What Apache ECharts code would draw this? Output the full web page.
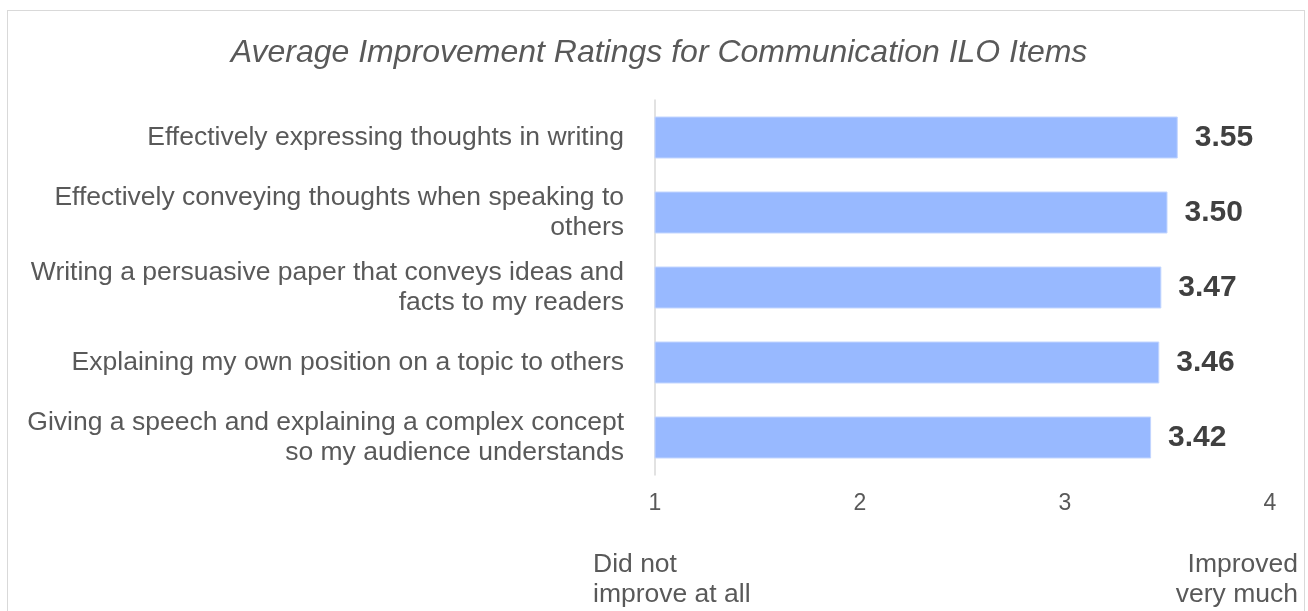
<!DOCTYPE html>
<html>
<head>
<meta charset="utf-8">
<script src="https://cdn.jsdelivr.net/npm/echarts@6/dist/echarts.min.js"></script>
<style>
  html, body { margin: 0; padding: 0; background: #fff; }
  .frame {
    position: absolute; left: 7px; top: 10px; width: 1298px; height: 620px;
    border: 1px solid #d9d9d9; box-sizing: border-box;
  }
  #chart { position: absolute; left: 0; top: 0; width: 1308px; height: 611px; }
</style>
</head>
<body>
<div class="frame"></div>
<div id="chart"></div>
<script>
// data
const categories = [
  "Effectively expressing thoughts in writing",
  "Effectively conveying thoughts when speaking to others",
  "Writing a persuasive paper that conveys ideas and facts to my readers",
  "Explaining my own position on a topic to others",
  "Giving a speech and explaining a complex concept so my audience understands",
];
const ratings = [3.55, 3.50, 3.47, 3.46, 3.42];
const scaleEnds = ["Did not\nimprove at all", "Improved\nvery much"];

const font = "Liberation Sans, Arial, sans-serif";

// wrap long labels on word boundaries (no trailing spaces)
function wrap(text, maxChars) {
  let lines = [];
  let cur = "";
  text.split(" ").forEach((w) => {
    if (cur && (cur + " " + w).length > maxChars) {
      lines.push(cur);
      cur = w;
    } else {
      cur = cur ? cur + " " + w : w;
    }
  });
  if (cur) lines.push(cur);
  return lines.join("\n");
}

const myChart = echarts.init(document.getElementById("chart"));

let option = {
  animation: false,
  title: {
    text: "Average Improvement Ratings for Communication ILO Items",
    left: 654,
    textAlign: "center",
    top: 32,
    textStyle: {
      fontFamily: font,
      fontStyle: "italic",
      fontWeight: "normal",
      fontSize: 32,
      color: "#595959",
    },
  },
  grid: {
    left: 655,
    right: 38,
    top: 100,
    bottom: 136,
  },
  xAxis: {
    type: "value",
    min: 1,
    max: 4,
    interval: 1,
    axisLine: { show: false },
    axisTick: { show: false },
    splitLine: { show: false },
    axisLabel: {
      margin: 17,
      fontFamily: font,
      fontSize: 23,
      color: "#595959",
    },
  },
  yAxis: {
    type: "category",
    data: categories,
    inverse: true,
    axisLine: { show: true, lineStyle: { color: "#d9d9d9", width: 1.5 } },
    axisTick: { show: false },
    axisLabel: {
      margin: 31,
      fontFamily: font,
      fontSize: 26.5,
      lineHeight: 30,
      color: "#595959",
      align: "right",
      formatter: (v) => wrap(v, 49),
    },
  },
  series: [
    {
      type: "bar",
      data: ratings,
      barCategoryGap: "44%",
      itemStyle: {
        color: "#98b9ff",
        borderColor: "#c3d6ff",
        borderWidth: 1,
      },
      label: {
        show: true,
        position: "right",
        distance: 17,
        formatter: (p) => p.value.toFixed(2),
        fontFamily: font,
        fontSize: 30,
        fontWeight: "bold",
        color: "#404040",
      },
    },
  ],
  graphic: [
    {
      type: "text",
      left: 593,
      top: 550,
      style: {
        text: scaleEnds[0],
        font: "26.5px " + font,
        lineHeight: 30,
        fill: "#595959",
        textAlign: "left",
      },
    },
    {
      type: "text",
      right: 10,
      top: 550,
      style: {
        text: scaleEnds[1],
        font: "26.5px " + font,
        lineHeight: 30,
        fill: "#595959",
        textAlign: "right",
      },
    },
  ],
};
myChart.setOption(option);
</script>
</body>
</html>
